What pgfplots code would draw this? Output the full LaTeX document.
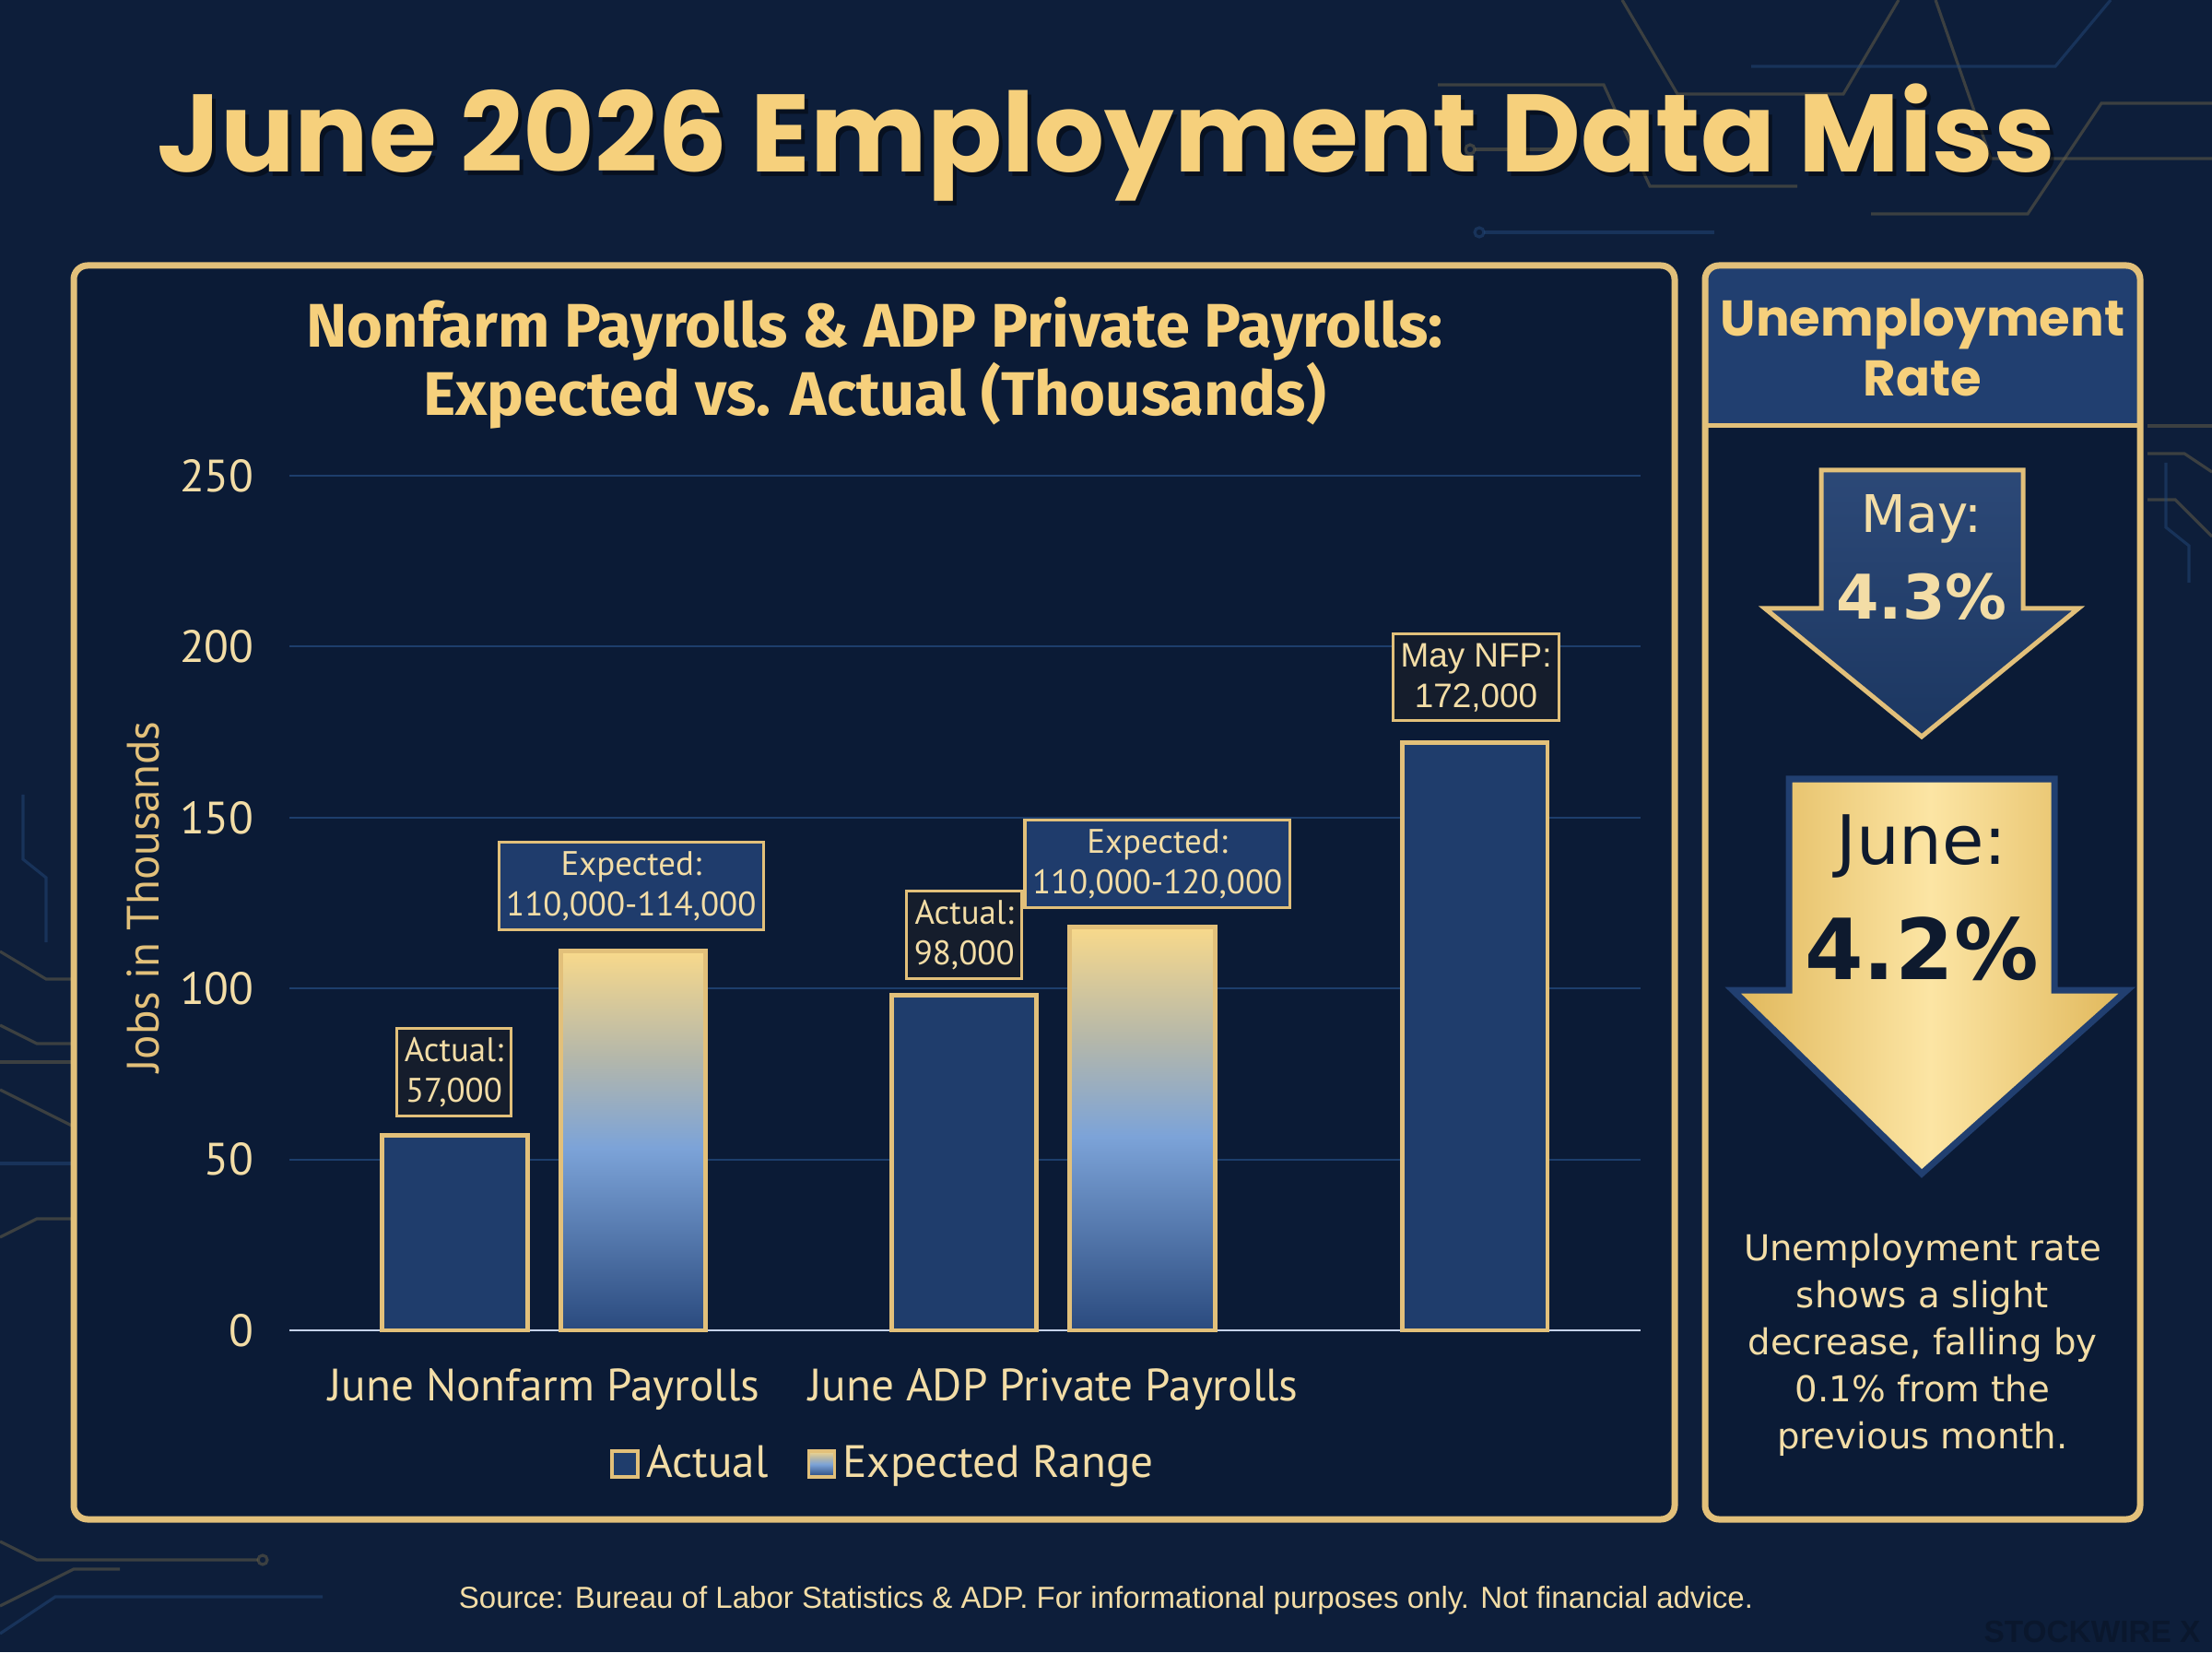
\documentclass[border=0pt]{standalone}
\usepackage{pgfplots}
\pgfplotsset{compat=1.18}
\usepackage{fontspec}
\setmainfont{PT Sans}
\newfontfamily\poppins{Poppins}
\newfontfamily\fira{Fira Sans}
\newfontfamily\dejavu{DejaVu Sans}
\newfontfamily\libsans{Liberation Sans}

\definecolor{bg}{HTML}{0D1E3A}
\definecolor{panelfill}{HTML}{0B1B36}
\definecolor{gold}{HTML}{E2C07A}
\definecolor{titlegold}{HTML}{F6D07C}
\definecolor{cream}{HTML}{F3DDA6}
\definecolor{bluebar}{HTML}{1F3D6C}
\definecolor{annotblue}{HTML}{1F3C6C}
\definecolor{annotdark}{HTML}{151D2C}
\definecolor{gridc}{HTML}{1D3E6C}
\definecolor{zeroline}{HTML}{C5D3EA}
\definecolor{headerblue}{HTML}{213F70}
\definecolor{expB}{HTML}{2A4A7E}
\definecolor{expL}{HTML}{7CA3D8}
\definecolor{expM}{HTML}{B4B7AA}
\definecolor{expT}{HTML}{F8D98B}
\definecolor{goldD}{HTML}{E0B75A}
\definecolor{goldL}{HTML}{FCE5A4}
\definecolor{navytext}{HTML}{0E1A2E}
\definecolor{decoG}{HTML}{6B6248}
\definecolor{decoB}{HTML}{23497A}
\definecolor{wmark}{HTML}{0A172D}

\pgfdeclareverticalshading{expgrad}{100bp}{color(0bp)=(expB); color(25bp)=(expB); color(49bp)=(expL); color(61bp)=(expM); color(75bp)=(expT); color(100bp)=(expT)}

\begin{document}
\begin{tikzpicture}[x=1cm,y=1cm,
  annot/.style={draw=gold, line width=0.9pt, align=center, font=\fontsize{10.5}{12.5}\selectfont, text=cream, inner xsep=0.08cm, inner ysep=0.1cm}]
\path[use as bounding box] (0,0) rectangle (24,17.92);
\fill[bg] (0,0) rectangle (24,17.92);

% background circuit decoration
\begin{scope}[line width=0.9pt, opacity=0.5]
\draw[decoG] (15.6,17.0)--(17.4,17.0)--(17.9,15.9)--(19.5,15.9);
\draw[decoG] (17.6,17.92)--(18.2,16.9)--(20.0,16.9)--(20.6,17.92);
\draw[decoB] (16.1,15.4)--(18.6,15.4);
\draw[decoG] (20.3,15.6)--(22.0,15.6)--(22.8,16.8)--(24,16.8);
\draw[decoG] (21.0,17.92)--(21.6,16.2)--(24,16.2);
\draw[decoB] (19.0,17.2)--(22.3,17.2)--(22.9,17.92);
\draw[decoG] (16.0,16.3)--(17.0,16.3);
\draw[decoG] (15.95,16.3) circle (0.05);
\draw[decoB] (16.05,15.4) circle (0.05);
\draw[decoG] (23.3,12.5)--(23.6,12.5)--(24,12.1);
\draw[decoG] (23.3,13.3)--(24,13.3);
\draw[decoG] (23.3,13.0)--(23.7,13.0)--(24,12.8);
\draw[decoB] (23.5,12.9)--(23.5,12.2)--(23.75,12.0)--(23.75,11.6);
\draw[decoG] (0,7.6)--(0.5,7.3)--(0.8,7.3);
\draw[decoG] (0,6.8)--(0.4,6.6)--(0.8,6.6);
\draw[decoG] (0,6.4)--(0.8,6.4);
\draw[decoG] (0,6.1)--(0.8,5.7);
\draw[decoB] (0,5.3)--(0.8,5.3);
\draw[decoG] (0,4.5)--(0.4,4.7)--(0.8,4.7);
\draw[decoB] (0.25,9.3)--(0.25,8.6)--(0.5,8.4)--(0.5,7.7);
\draw[decoG] (0,1.2)--(0.4,1.0)--(2.8,1.0);
\draw[decoG] (2.85,1.0) circle (0.05);
\draw[decoG] (0,0.5)--(0.8,0.9)--(1.3,0.9);
\draw[decoB] (0,0.2)--(0.6,0.6)--(3.5,0.6);
\end{scope}

% panels
\filldraw[fill=panelfill, draw=gold, line width=0.07cm, rounded corners=0.15cm] (0.80,1.44) rectangle (18.17,15.04);
\fill[panelfill, rounded corners=0.15cm] (18.50,1.44) rectangle (23.22,15.04);
\fill[headerblue, rounded corners=0.15cm] (18.50,13.30) rectangle (23.22,15.04);
\fill[headerblue] (18.50,13.30) rectangle (23.22,14.6);
\draw[gold, line width=0.05cm] (18.50,13.30) -- (23.22,13.30);
\draw[gold, line width=0.07cm, rounded corners=0.15cm] (18.50,1.44) rectangle (23.22,15.04);

% main title (with soft shadow)
\node[anchor=base, text=black, opacity=0.45, font=\poppins\bfseries\fontsize{34}{38}\selectfont] at (12.04,16.0) {June 2026 Employment Data Miss};
\node[anchor=base, text=titlegold, font=\poppins\bfseries\fontsize{34}{38}\selectfont] at (12.0,16.05) {June 2026 Employment Data Miss};

% chart title
\node[align=center, text=titlegold, font=\fira\bfseries\fontsize{19}{21}\selectfont] at (9.49,13.985) {Nonfarm Payrolls \& ADP Private Payrolls:\\Expected vs. Actual (Thousands)};

\begin{axis}[
  at={(3.14cm,3.49cm)}, anchor=south west,
  scale only axis, width=14.66cm, height=9.27cm,
  xmin=-0.5, xmax=2.153, ymin=0, ymax=250,
  ytick={0,50,100,150,200,250},
  /pgf/number format/assume math mode=true,
  xtick={0,1}, xticklabels={June Nonfarm Payrolls, June ADP Private Payrolls},
  ymajorgrids, grid style={color=gridc, line width=0.6pt},
  axis x line*=bottom, axis y line*=left,
  y axis line style={draw=none},
  x axis line style={color=zeroline, line width=0.8pt, -},
  major tick length=0pt, tick style={draw=none},
  yticklabel style={font=\fontsize{14}{16}\selectfont, text=cream, xshift=-0.26cm},
  xticklabel style={font=\fontsize{14}{16}\selectfont, text=cream, anchor=center, yshift=-0.64cm},
  ylabel={Jobs in Thousands},
  ylabel style={at={(axis description cs:-0.108,0.507)}, anchor=center, font=\fontsize{14}{16}\selectfont, text=gold},
  bar width=0.285,
  clip=false,
  legend style={at={(0.441,-0.156)}, anchor=center, draw=none, fill=none, text=cream,
     font=\fontsize{14}{16}\selectfont, legend columns=2,
     /tikz/every even column/.append style={column sep=0.35cm}},
  legend image code/.code={\draw[#1, line width=1.1pt] (0cm,-0.14cm) rectangle (0.28cm,0.14cm);},
]
\addplot[ybar, bar shift=0pt, fill=bluebar, draw=gold, line width=1.4pt]
  coordinates {(-0.175,57) (0.825,98)};
\addlegendentry{Actual}
\addplot[ybar, bar shift=0pt, shading=expgrad, draw=gold, line width=1.4pt]
  coordinates {(0.175,111)};
\addlegendentry{Expected Range}
\addplot[ybar, bar shift=0pt, shading=expgrad, draw=gold, line width=1.4pt, forget plot]
  coordinates {(1.175,118)};
\addplot[ybar, bar shift=0pt, fill=bluebar, draw=gold, line width=1.4pt, forget plot]
  coordinates {(1.8276,172)};

\node[annot, fill=annotdark] at (axis cs:-0.177,75.5) {Actual:\\57,000};
\node[annot, fill=annotblue] at (axis cs:0.171,130) {Expected:\\110,000-114,000};
\node[annot, fill=annotblue] at (axis cs:1.204,136.4) {Expected:\\110,000-120,000};
\node[annot, fill=annotdark] at (axis cs:0.825,115.7) {Actual:\\98,000};
\node[annot, fill=annotdark, font=\libsans\fontsize{10.5}{12.5}\selectfont] at (axis cs:1.830,191) {May NFP:\\172,000};
\end{axis}

% right panel header
\node[align=center, text=titlegold, font=\poppins\bfseries\fontsize{15.5}{18.5}\selectfont] at (20.86,14.15) {Unemployment\\Rate};

% May arrow
\draw[gold, line width=0.05cm, top color=headerblue!95!white, bottom color=bluebar!90!black]
  (19.76,12.82) -- (21.95,12.82) -- (21.95,11.32) -- (22.55,11.32) -- (20.85,9.93) -- (19.15,11.32) -- (19.76,11.32) -- cycle;
\node[text=cream, font=\dejavu\fontsize{16}{19}\selectfont] at (20.85,12.29) {May:};
\node[text=cream, font=\dejavu\bfseries\fontsize{19}{22}\selectfont] at (20.85,11.45) {4.3\%};

% June arrow
\draw[headerblue, line width=0.07cm, left color=goldD, right color=goldD, middle color=goldL]
  (19.41,9.47) -- (22.29,9.47) -- (22.29,7.18) -- (23.08,7.18) -- (20.85,5.19) -- (18.80,7.18) -- (19.41,7.18) -- cycle;
\node[text=navytext, font=\dejavu\fontsize{21}{25}\selectfont] at (20.85,8.74) {June:};
\node[text=navytext, font=\dejavu\bfseries\fontsize{26}{30}\selectfont] at (20.85,7.63) {4.2\%};

% description
\node[align=center, text=cream, font=\dejavu\fontsize{11}{14.5}\selectfont] at (20.86,3.33)
  {Unemployment rate\\shows a slight\\decrease, falling by\\0.1\% from the\\previous month.};

% source
\node[text=cream, font=\libsans\fontsize{9.4}{11}\selectfont] at (12.0,0.56)
  {Source: Bureau of Labor Statistics \& ADP. For informational purposes only. Not financial advice.};

% watermark
\node[text=wmark, font=\libsans\bfseries\fontsize{9.5}{10}\selectfont] at (22.70,0.22) {STOCKWIRE X};
\end{tikzpicture}
\end{document}
